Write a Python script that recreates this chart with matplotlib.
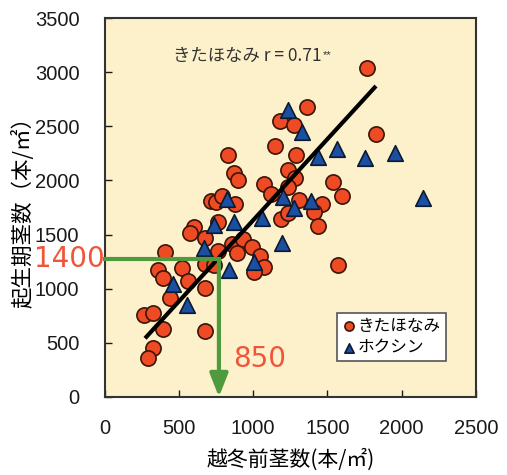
import numpy as np
import matplotlib
matplotlib.use('Agg')
import matplotlib.pyplot as plt

plt.rcParams['font.family'] = ['Liberation Sans Narrow', 'Liberation Sans', 'DejaVu Sans']

# きたほなみ (circles)
kita_x = [1766, 1363, 1181, 1275, 1827, 1147, 1289, 831, 871, 898, 1235, 1282,
          1073, 1235, 1120, 1538, 1598, 1309, 1464, 1410, 1437, 1188, 717, 750,
          791, 878, 602, 575, 764, 676, 407, 764, 858, 932, 993, 892, 1047, 1073,
          1006, 360, 394, 522, 562, 676, 676, 737, 441, 266, 326, 394, 676, 326,
          293, 1571, 1235]
kita_y = [3038, 2678, 2549, 2512, 2429, 2318, 2235, 2235, 2068, 2004, 2096, 2022,
          1967, 1939, 1875, 1986, 1856, 1819, 1782, 1708, 1579, 1644, 1810, 1801,
          1856, 1782, 1570, 1514, 1616, 1468, 1339, 1348, 1413, 1459, 1385, 1330,
          1302, 1200, 1154, 1173, 1099, 1191, 1071, 1007, 1228, 1219, 914, 757,
          776, 628, 609, 452, 360, 1219, 1699]

# ホクシン (triangles)
hok_x = [1235, 1329, 1437, 1565, 1753, 1955, 2144, 1201, 1275, 1390, 824, 737,
         871, 1060, 1195, 670, 838, 1006, 461, 555]
hok_y = [2650, 2447, 2216, 2290, 2207, 2253, 1838, 1847, 1745, 1810, 1828, 1588,
         1616, 1653, 1422, 1376, 1173, 1247, 1043, 850]

# regression line for きたほなみ
fit_x = [273, 1827]
fit_y = [542, 2872]

# reading guide
guide_x = 770
guide_y = 1275
guide_labels = ['1400', '850']

cjk = ['Noto Sans CJK JP', 'DejaVu Sans']

fig = plt.figure(figsize=(5.07, 4.75), dpi=100)
ax = fig.add_axes([104.5 / 507, 78 / 475, 371.5 / 507, 379 / 475])
ax.set_facecolor('#fdf1cb')

ax.plot(fit_x, fit_y, color='black', lw=3, zorder=4, solid_capstyle='butt')
ax.scatter(kita_x, kita_y, s=120, marker='o', color='#ee4b25', edgecolors='#3b1508',
           linewidths=1.2, zorder=3, label='きたほなみ')
ax.scatter(hok_x, hok_y, s=125, marker='^', color='#1b4fa0', edgecolors='#0b1a33',
           linewidths=1.2, zorder=3, label='ホクシン')

green = '#4f9a3c'
ax.plot([0, guide_x], [guide_y, guide_y], color=green, lw=3, zorder=5, clip_on=False)
ax.annotate('', xy=(guide_x, 0), xytext=(guide_x, guide_y),
            arrowprops=dict(arrowstyle='-|>,head_length=1.4,head_width=0.55',
                            color=green, lw=3, shrinkA=0, shrinkB=0),
            zorder=5)
ax.text(0, guide_y, guide_labels[0], ha='right', va='center', color='#f0553a',
        fontsize=20, family='DejaVu Sans', clip_on=False, zorder=6)
ax.text(guide_x + 95, 350, guide_labels[1], ha='left', va='center', color='#f0553a',
        fontsize=20, family='DejaVu Sans', zorder=6)

t = ax.text(460, 3150, 'きたほなみ r = 0.71', fontsize=12.5, color='#333333', family=cjk,
            va='center')
ax.annotate('**', xy=(1, 1), xycoords=t, xytext=(1, -2), textcoords='offset points',
            ha='left', va='top', fontsize=8, color='#333333')

ax.set_xlim(0, 2500)
ax.set_ylim(0, 3500)
ax.set_xticks(np.arange(0, 2501, 500))
ax.set_yticks(np.arange(0, 3501, 500))
ax.tick_params(direction='in', length=5, width=1, labelsize=14.5, colors='#1a1a1a')
ax.tick_params(axis='x', pad=16)
ax.tick_params(axis='y', pad=18)
for s in ax.spines.values():
    s.set_linewidth(1.5)
    s.set_color('#333333')

ax.set_xlabel('越冬前茎数(本/㎡)', family=cjk, fontsize=15, labelpad=7)
ax.set_ylabel('起生期茎数（本/㎡）', family=cjk, fontsize=15.5, labelpad=0)

leg = ax.legend(loc='lower right', bbox_to_anchor=(0.918, 0.095), prop={'family': cjk, 'size': 12},
                fancybox=False, edgecolor='#555555', framealpha=1, handletextpad=0.1,
                borderpad=0.3, labelspacing=0.25, handlelength=0.8, markerscale=0.6,
                borderaxespad=0)
leg.get_frame().set_linewidth(1.2)

fig.savefig('out.png', dpi=100)
